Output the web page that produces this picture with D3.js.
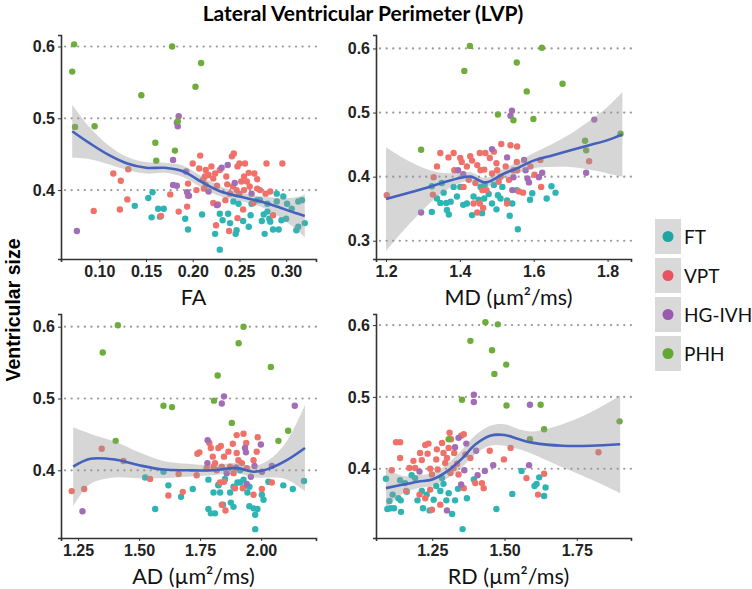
<!DOCTYPE html>
<html>
<head>
<meta charset="utf-8">
<script src="https://cdn.jsdelivr.net/npm/d3@7"></script>
<style>
  body { margin: 0; background: #fff; }
  .tick text { font-family: "Liberation Sans", Arial, sans-serif; font-weight: bold; font-size: 16px; fill: #222; }
  .axis path, .axis line { stroke: #333; }
</style>
</head>
<body>
<script>

var width = 752,
    height = 589;

var groups = ["FT", "VPT", "HG-IVH", "PHH"];

// ---- FA panel (x = FA, y = ventricular size) ----
var faFT = [[.138,.378],[.1525,.389],[.157,.397],[.156,.362],[.163,.374],[.169,.374],[.165,.363],[.192,.360],[.195,.345],[.210,.366],
  [.224,.339],[.229,.317],[.229,.367],[.232,.358],[.238,.367],[.240,.354],[.246,.339],[.247,.344],[.254,.357],[.260,.349],
  [.262,.365],[.263,.381],[.269,.386],[.274,.357],[.277,.339],[.276,.366],[.280,.381],[.282,.360],[.283,.356],[.280,.370],
  [.286,.345],[.292,.345],[.290,.384],[.295,.358],[.297,.391],[.300,.360],[.290,.395],[.311,.344],[.313,.349],[.313,.384],
  [.317,.386],[.320,.354],[.2436,.384],[.249,.381],[.272,.386],[.301,.381],[.306,.374]];
var faVPT = [[.094,.371],[.115,.423],[.123,.413],[.131,.429],[.130,.387],[.122,.373],[.166,.364],[.176,.394],[.185,.370],[.195,.409],
  [.195,.392],[.194,.377],[.200,.437],[.208,.448],[.211,.414],[.212,.402],[.214,.428],[.217,.421],[.213,.419],[.220,.433],
  [.222,.416],[.224,.423],[.226,.406],[.222,.382],[.227,.380],[.225,.351],[.235,.386],[.237,.408],[.242,.447],[.244,.451],
  [.248,.433],[.250,.437],[.256,.437],[.255,.419],[.260,.424],[.243,.405],[.240,.395],[.247,.400],[.250,.395],[.248,.361],
  [.239,.343],[.258,.412],[.261,.405],[.254,.373],[.265,.382],[.266,.423],[.269,.402],[.272,.400],[.279,.437],[.278,.395],
  [.283,.398],[.286,.365],[.296,.437],[.229,.428],[.207,.430],[.204,.400],[.214,.407],[.236,.419],[.269,.415],[.252,.412],[.255,.400]];
var faHG = [[.076,.343],[.185,.503],[.183,.494],[.184,.489],[.179,.442],[.179,.407],[.183,.406],[.194,.397],[.196,.392],[.193,.426],
  [.2375,.435],[.231,.431],[.245,.410],[.217,.398],[.226,.379],[.263,.395]];
var faPHH = [[.073,.603],[.071,.565],[.074,.488],[.095,.489],[.145,.532],[.178,.600],[.209,.577],[.203,.544],[.184,.496],[.160,.466],
  [.161,.441],[.181,.455]];
var faFitX = [.071,.09,.11,.13,.15,.17,.19,.21,.23,.25,.27,.29,.31,.32];
var faFit  = [.482,.465,.449,.437,.431,.431,.426,.411,.398,.391,.385,.377,.368,.364];
var faHalf = [.037,.022,.013,.009,.008,.007,.008,.008,.007,.006,.007,.012,.022,.030];

// ---- MD panel ----
var mdFT = [[1.324,.385],[1.324,.345],[1.338,.366],[1.347,.359],[1.356,.375],[1.363,.359],[1.365,.348],[1.370,.341],[1.375,.361],[1.383,.384],
  [1.401,.384],[1.409,.356],[1.419,.358],[1.433,.340],[1.437,.369],[1.451,.364],[1.460,.343],[1.466,.366],[1.478,.373],[1.487,.358],
  [1.492,.387],[1.499,.349],[1.503,.371],[1.510,.366],[1.515,.384],[1.528,.363],[1.535,.339],[1.542,.358],[1.557,.318],[1.554,.379],
  [1.590,.364],[1.596,.374],[1.635,.366],[1.648,.385],[1.659,.375],[1.467,.387],[1.351,.390],[1.392,.369],[1.456,.384]];
var mdVPT = [[1.202,.371],[1.329,.399],[1.327,.372],[1.338,.416],[1.347,.437],[1.369,.430],[1.383,.437],[1.385,.410],[1.401,.429],[1.405,.423],
  [1.428,.432],[1.433,.425],[1.447,.418],[1.454,.437],[1.469,.437],[1.481,.429],[1.466,.411],[1.492,.439],[1.512,.451],[1.499,.421],
  [1.501,.410],[1.510,.400],[1.524,.416],[1.537,.449],[1.555,.447],[1.554,.423],[1.545,.410],[1.555,.410],[1.533,.395],[1.505,.392],
  [1.528,.358],[1.560,.377],[1.571,.375],[1.591,.416],[1.602,.403],[1.618,.426],[1.620,.384],[1.437,.358],[1.447,.344],[1.454,.358],
  [1.463,.351],[1.472,.379],[1.424,.395],[1.410,.384],[1.442,.390],[1.461,.379],[1.750,.424],[1.419,.416],[1.456,.410],[1.487,.405]];
var mdHG = [[1.541,.503],[1.537,.495],[1.764,.489],[1.295,.344],[1.528,.430],[1.487,.443],[1.574,.426],[1.578,.410],[1.583,.397],[1.587,.391],
  [1.545,.399],[1.542,.379],[1.623,.406],[1.614,.399],[1.742,.406],[1.395,.410],[1.409,.404]];
var mdPHH = [[1.427,.604],[1.412,.565],[1.622,.601],[1.554,.578],[1.581,.533],[1.678,.545],[1.503,.497],[1.545,.488],[1.599,.490],[1.295,.442],
  [1.739,.456],[1.742,.441],[1.835,.467]];
var mdFitX = [1.20,1.25,1.30,1.35,1.40,1.43,1.47,1.52,1.55,1.60,1.65,1.70,1.75,1.80,1.84];
var mdFit  = [.365,.373,.381,.390,.398,.400,.391,.405,.412,.425,.433,.441,.449,.457,.466];
var mdHalf = [.081,.055,.033,.016,.008,.007,.007,.008,.009,.012,.018,.026,.038,.052,.066];

// ---- AD panel ----
var adFT = [[1.525,.390],[1.566,.346],[1.600,.398],[1.620,.379],[1.672,.363],[1.720,.374],[1.784,.387],[1.784,.346],[1.794,.340],[1.805,.369],
  [1.811,.340],[1.825,.379],[1.832,.369],[1.844,.352],[1.852,.388],[1.873,.369],[1.876,.355],[1.887,.349],[1.903,.383],[1.914,.383],
  [1.928,.387],[1.941,.379],[1.944,.369],[1.952,.350],[1.969,.347],[1.976,.338],[1.976,.318],[1.985,.346],[2.003,.366],[2.010,.359],
  [2.030,.384],[2.091,.379],[2.130,.374],[2.176,.385],[1.825,.380],[1.887,.377],[1.952,.377],[1.914,.400]];
var adVPT = [[1.224,.371],[1.275,.374],[1.347,.430],[1.436,.413],[1.545,.388],[1.620,.365],[1.662,.395],[1.679,.370],[1.736,.393],[1.739,.423],
  [1.747,.425],[1.788,.438],[1.794,.431],[1.802,.419],[1.811,.410],[1.825,.431],[1.835,.434],[1.848,.419],[1.866,.426],[1.884,.437],
  [1.900,.449],[1.928,.451],[1.900,.424],[1.907,.414],[1.939,.438],[1.921,.410],[1.969,.414],[1.986,.446],[1.982,.426],[1.818,.400],
  [1.832,.383],[1.848,.384],[1.839,.352],[1.854,.344],[1.893,.375],[1.925,.375],[1.969,.366],[2.003,.374],[2.044,.383],[1.873,.405],
  [1.887,.396],[1.805,.405],[1.941,.403],[1.777,.403],[1.839,.405]];
var adHG = [[1.268,.343],[1.848,.503],[1.839,.493],[2.138,.490],[1.781,.442],[1.934,.431],[1.938,.425],[1.999,.436],[1.973,.406],[2.004,.398],
  [2.044,.406],[1.941,.381],[1.958,.391],[1.780,.410],[1.859,.396],[1.898,.404]];
var adPHH = [[1.413,.602],[1.351,.564],[1.928,.600],[1.908,.577],[1.822,.532],[2.040,.544],[1.807,.497],[1.600,.490],[1.635,.488],[1.880,.466],
  [1.404,.441],[2.071,.441],[2.111,.455]];
var adFitX = [1.23,1.30,1.40,1.50,1.60,1.70,1.80,1.90,1.97,2.03,2.10,2.18];
var adFit  = [.405,.416,.415,.407,.401,.400,.400,.403,.398,.402,.413,.431];
var adHalf = [.055,.035,.025,.018,.012,.009,.007,.007,.008,.012,.025,.060];

// ---- RD panel ----
var rdFT = [[1.090,.386],[1.095,.344],[1.106,.345],[1.113,.364],[1.118,.345],[1.133,.359],[1.142,.340],[1.141,.356],[1.139,.384],[1.162,.368],
  [1.179,.391],[1.191,.387],[1.199,.356],[1.214,.369],[1.218,.345],[1.231,.364],[1.241,.342],[1.255,.357],[1.264,.376],[1.278,.369],
  [1.289,.379],[1.299,.356],[1.307,.366],[1.319,.337],[1.329,.356],[1.339,.372],[1.355,.316],[1.370,.359],[1.394,.385],[1.472,.344],
  [1.527,.365],[1.559,.397],[1.604,.376],[1.611,.379],[1.620,.388],[1.637,.362],[1.642,.374],[1.102,.355],[1.156,.380],[1.284,.387]];
var rdVPT = [[1.125,.437],[1.139,.437],[1.139,.415],[1.110,.398],[1.171,.401],[1.160,.369],[1.191,.401],[1.208,.422],[1.214,.412],[1.226,.433],
  [1.237,.435],[1.234,.421],[1.243,.400],[1.249,.392],[1.264,.413],[1.269,.399],[1.284,.436],[1.289,.422],[1.295,.408],[1.301,.415],
  [1.307,.429],[1.310,.450],[1.315,.441],[1.326,.422],[1.336,.407],[1.341,.392],[1.350,.446],[1.359,.448],[1.365,.420],[1.382,.415],
  [1.313,.394],[1.278,.350],[1.249,.343],[1.206,.364],[1.243,.371],[1.226,.359],[1.324,.401],[1.359,.373],[1.399,.380],[1.422,.380],
  [1.428,.373],[1.449,.425],[1.498,.413],[1.521,.429],[1.576,.387],[1.616,.364],[1.637,.393],[1.825,.423],[1.185,.411],[1.266,.427]];
var rdHG = [[1.394,.503],[1.394,.493],[1.588,.489],[1.341,.443],[1.329,.430],[1.368,.435],[1.402,.425],[1.461,.405],[1.585,.405],[1.432,.397],
  [1.361,.398],[1.206,.396],[1.407,.391],[1.350,.378],[1.301,.342]];
var rdPHH = [[1.434,.604],[1.477,.601],[1.382,.578],[1.457,.565],[1.506,.545],[1.465,.532],[1.353,.496],[1.507,.488],[1.625,.489],[1.637,.455],
  [1.588,.441],[1.307,.441],[1.898,.466]];
var rdFitX = [1.09,1.15,1.20,1.25,1.30,1.35,1.40,1.45,1.50,1.55,1.60,1.70,1.80,1.90];
var rdFit  = [.373,.378,.382,.385,.396,.413,.434,.446,.447,.441,.436,.432,.432,.434];
var rdHalf = [.027,.012,.009,.009,.010,.012,.013,.014,.015,.014,.016,.030,.047,.068];

// tick values
var faTicks = [0.10, 0.15, 0.20, 0.25, 0.30];
var mdTicks = [1.2, 1.4, 1.6, 1.8];
var adTicks = [1.25, 1.50, 1.75, 2.00];
var rdTicks = [1.25, 1.50, 1.75];

var colors = ["#2cb5b4", "#ef716a", "#a36cb7", "#6dad3a"];
var legendColors = ["#1fa6a3", "#ea5260", "#9a5aae", "#62a832"];

var svg = d3.select("body").append("svg")
    .attr("width", width)
    .attr("height", height);

var pw = 255, ph = 224;

var panels = [
  { sets: [faFT, faVPT, faHG, faPHH], fx: faFitX, fy: faFit, fh: faHalf, left: 61, top: 35,
    xd: [0.059, 0.332], yd: [0.304, 0.616], xt: faTicks, yt: [0.4, 0.5, 0.6], xf: ".2f", title: "FA" },
  { sets: [mdFT, mdVPT, mdHG, mdPHH], fx: mdFitX, fy: mdFit, fh: mdHalf, left: 376, top: 35,
    xd: [1.1728, 1.8634], yd: [0.2715, 0.621], xt: mdTicks, yt: [0.3, 0.4, 0.5, 0.6], xf: ".1f", title: "MD (µm²/ms)" },
  { sets: [adFT, adVPT, adHG, adPHH], fx: adFitX, fy: adFit, fh: adHalf, left: 61, top: 314,
    xd: [1.180, 2.225], yd: [0.3057, 0.6177], xt: adTicks, yt: [0.4, 0.5, 0.6], xf: ".2f", title: "AD (µm²/ms)" },
  { sets: [rdFT, rdVPT, rdHG, rdPHH], fx: rdFitX, fy: rdFit, fh: rdHalf, left: 376, top: 314,
    xd: [1.0556, 1.9375], yd: [0.3036, 0.6154], xt: rdTicks, yt: [0.4, 0.5, 0.6], xf: ".2f", title: "RD (µm²/ms)" }
];

panels.forEach(function(p) {
  var g = svg.append("g").attr("transform", "translate(" + p.left + "," + p.top + ")");
  var x = d3.scaleLinear().domain(p.xd).range([0, pw]);
  var y = d3.scaleLinear().domain(p.yd).range([ph, 0]);

  // dotted grid at the y ticks
  g.selectAll(".grid").data(p.yt).enter().append("line")
    .attr("x1", 4).attr("x2", pw)
    .attr("y1", function(d) { return y(d); })
    .attr("y2", function(d) { return y(d); })
    .attr("stroke", "#999").attr("stroke-width", 2.2)
    .attr("stroke-dasharray", "0.1,6.5").attr("stroke-linecap", "round");

  p.sets.forEach(function(set, i) {
    g.selectAll(".pt" + i).data(set).enter().append("circle")
      .attr("cx", function(d) { return x(d[0]); })
      .attr("cy", function(d) { return y(d[1]); })
      .attr("r", 3.2)
      .attr("fill", colors[i]);
  });

  var fit = p.fx.map(function(v, i) { return { x: v, y: p.fy[i], h: p.fh[i] }; });

  var band = d3.area()
    .x(function(d) { return x(d.x); })
    .y0(function(d) { return y(d.y - d.h); })
    .y1(function(d) { return y(d.y + d.h); })
    .curve(d3.curveCatmullRom);
  g.append("path").datum(fit).attr("d", band)
    .attr("fill", "#999").attr("fill-opacity", 0.4);

  var line = d3.line()
    .x(function(d) { return x(d.x); })
    .y(function(d) { return y(d.y); })
    .curve(d3.curveCatmullRom);
  g.append("path").datum(fit).attr("d", line)
    .attr("fill", "none").attr("stroke", "#4361bd").attr("stroke-width", 2.6);

  var xa = g.append("g").attr("class", "axis").attr("transform", "translate(0," + ph + ")")
    .call(d3.axisBottom(x).tickValues(p.xt).tickFormat(d3.format(p.xf)).tickSize(3).tickPadding(4));
  var ya = g.append("g").attr("class", "axis")
    .call(d3.axisLeft(y).tickValues(p.yt).tickFormat(d3.format(".1f")).tickSize(3).tickPadding(3));
  [xa, ya].forEach(function(a) {
    a.select(".domain").attr("stroke-width", 1.6).attr("stroke", "#333");
  });

  g.append("text")
    .attr("x", pw / 2 + 5).attr("y", ph + 46)
    .attr("text-anchor", "middle")
    .style("font-family", "Lato, sans-serif").style("font-size", "21.5px").style("fill", "#111")
    .text(p.title);
});

// title
svg.append("text")
  .attr("x", 363).attr("y", 21)
  .attr("text-anchor", "middle")
  .style("font-family", "Lato, sans-serif").style("font-weight", "bold").style("font-size", "21px")
  .text("Lateral Ventricular Perimeter (LVP)");

// y axis title
svg.append("text")
  .attr("transform", "translate(20,310) rotate(-90)")
  .attr("text-anchor", "middle")
  .style("font-family", "Liberation Sans, Arial, sans-serif").style("font-weight", "bold").style("font-size", "19.5px")
  .text("Ventricular size");

// legend
var leg = svg.selectAll(".leg").data(groups).enter().append("g")
  .attr("transform", function(d, i) { return "translate(655," + (219 + i * 39) + ")"; });
leg.append("rect").attr("width", 26).attr("height", 35).attr("fill", "#d9d9d9");
leg.append("circle").attr("cx", 13).attr("cy", 17.5).attr("r", 5.5)
  .attr("fill", function(d, i) { return legendColors[i]; });
leg.append("text").attr("x", 29).attr("y", 25)
  .style("font-family", "Lato, sans-serif").style("font-size", "19px").style("fill", "#111")
  .text(function(d) { return d; });

</script>
</body>
</html>
